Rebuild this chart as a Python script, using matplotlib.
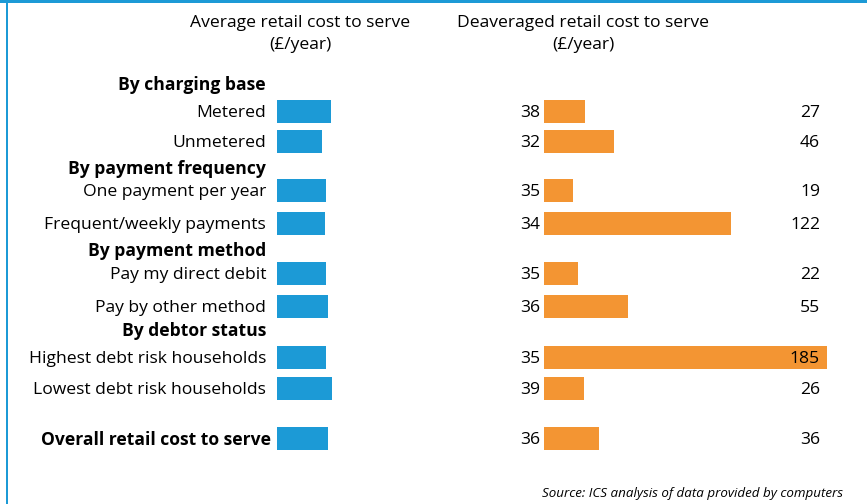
import matplotlib.pyplot as plt
from matplotlib.patches import Rectangle

plt.rcParams['font.family'] = ['Open Sans', 'DejaVu Sans']

# data
groups = ["By charging base", "By payment frequency", "By payment method", "By debtor status"]
categories = ["Metered", "Unmetered",
              "One payment per year", "Frequent/weekly payments",
              "Pay my direct debit", "Pay by other method",
              "Highest debt risk households", "Lowest debt risk households",
              "Overall retail cost to serve"]
average_cost = [38, 32, 35, 34, 35, 36, 35, 39, 36]
deaveraged_cost = [27, 46, 19, 122, 22, 55, 185, 26, 36]

# layout (pixel rows)
group_y = [83, 167, 249, 329]
row_y = [111, 141, 190, 223, 273, 306, 357, 388, 438]

W, H = 867, 504
blue = "#1c9ad6"
orange = "#f39533"
fs = 12.6
dy = 2  # text sits a touch lower than bar centre

fig = plt.figure(figsize=(W / 100, H / 100), dpi=100)
base = fig.add_axes([0, 0, 1, 1])
base.set_xlim(0, W)
base.set_ylim(H, 0)
base.axis("off")

# frame
base.add_patch(Rectangle((0, 0), W, 2.5, color=blue, lw=0))
base.add_patch(Rectangle((5.5, 0), 2, H, color=blue, lw=0))

# column headers
base.text(300, 23, "Average retail cost to serve", ha="center", va="center", fontsize=fs)
base.text(300, 45, "(£/year)", ha="center", va="center", fontsize=fs)
base.text(583, 23, "Deaveraged retail cost to serve", ha="center", va="center", fontsize=fs)
base.text(583, 45, "(£/year)", ha="center", va="center", fontsize=fs)

for g, y in zip(groups, group_y):
    base.text(266, y + dy, g, ha="right", va="center", fontsize=fs, fontweight="bold")

for i, (c, y) in enumerate(zip(categories, row_y)):
    last = i == len(categories) - 1
    base.text(271 if last else 266, y + dy, c, ha="right", va="center", fontsize=fs,
              fontweight="bold" if last else "normal")
    base.text(540, y + dy, str(average_cost[i]), ha="right", va="center", fontsize=fs)
    base.text(820, y + dy, str(deaveraged_cost[i]), ha="right", va="center", fontsize=fs)

# bars
ax_l = fig.add_axes([277 / W, 0, 200 / W, 1])
ax_l.set_xlim(0, 200 / 1.41)
ax_l.set_ylim(H, 0)
ax_l.barh(row_y, average_cost, height=23, color=blue)
ax_l.axis("off")

ax_r = fig.add_axes([544 / W, 0, 300 / W, 1])
ax_r.set_xlim(0, 300 / 1.53)
ax_r.set_ylim(H, 0)
ax_r.barh(row_y, deaveraged_cost, height=23, color=orange)
ax_r.axis("off")

# keep value labels above bars
for ax in (ax_l, ax_r):
    ax.set_zorder(0)
base.set_zorder(1)
base.patch.set_visible(False)

base.text(843, 493, "Source: ICS analysis of data provided by computers", ha="right", va="center",
          fontsize=9.6, style="italic")

fig.savefig("out.png", dpi=100)
